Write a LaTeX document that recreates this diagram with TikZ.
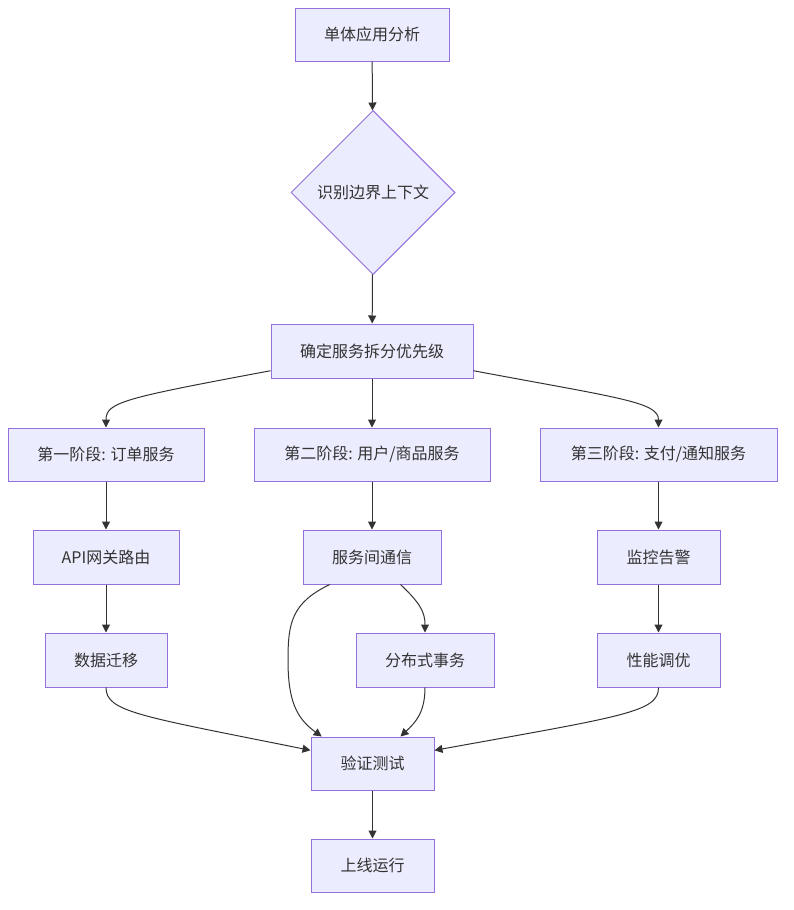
\documentclass[tikz,border=0pt]{standalone}
\usepackage{fontspec}
\setmainfont{Noto Sans CJK SC}
\usetikzlibrary{shapes.geometric,arrows.meta,calc}
\definecolor{nfill}{HTML}{ECECFF}
\definecolor{nline}{HTML}{9370DB}
\definecolor{ntext}{HTML}{333333}
\definecolor{eline}{HTML}{333333}
\begin{document}
\begin{tikzpicture}[x=0.75pt,y=-0.75pt,
  box/.style={draw=nline,fill=nfill,line width=0.75pt,text=ntext,font=\fontsize{12pt}{14pt}\selectfont,inner sep=0pt,minimum height=53*0.75pt},
  dia/.style={box,shape=diamond,aspect=1,minimum width=164*0.75pt,minimum height=164*0.75pt},
  edge/.style={draw=eline,line width=0.75pt,-{Triangle[length=6pt,width=6pt]}}]
\useasboundingbox (0,0) rectangle (793,910);
\node[box,minimum width=154*0.75pt] (A) at (372,34.5) {单体应用分析};
\node[dia] (B) at (373,192.5) {识别边界上下文};
\node[box,minimum width=202*0.75pt,minimum height=54*0.75pt] (C) at (372,351) {确定服务拆分优先级};
\node[box,minimum width=196*0.75pt] (D1) at (106,454.5) {第一阶段: 订单服务};
\node[box,minimum width=236*0.75pt] (D2) at (372,454.5) {第二阶段: 用户/商品服务};
\node[box,minimum width=237*0.75pt] (D3) at (658.5,454.5) {第三阶段: 支付/通知服务};
\node[box,minimum width=146*0.75pt,minimum height=54*0.75pt] (E1) at (106,557) {API网关路由};
\node[box,minimum width=138*0.75pt,minimum height=54*0.75pt] (E2) at (372,557) {服务间通信};
\node[box,minimum width=123*0.75pt,minimum height=54*0.75pt] (E3) at (658.5,557) {监控告警};
\node[box,minimum width=122*0.75pt,minimum height=54*0.75pt] (F1) at (106,660) {数据迁移};
\node[box,minimum width=138*0.75pt,minimum height=54*0.75pt] (F2) at (425,660) {分布式事务};
\node[box,minimum width=123*0.75pt,minimum height=54*0.75pt] (F3) at (658.5,660) {性能调优};
\node[box,minimum width=123*0.75pt] (G) at (372.5,763.5) {验证测试};
\node[box,minimum width=123*0.75pt] (H) at (372.5,865.5) {上线运行};

\draw[edge] (A) -- (B);
\draw[edge] (B) -- (C);
\draw[edge] (C.191) .. controls (125,398) and (106,402) .. (D1.north);
\draw[edge] (C) -- (D2);
\draw[edge] (C.-11) .. controls (619,398) and (658.5,402) .. (D3.north);
\draw[edge] (D1) -- (E1);
\draw[edge] (D2) -- (E2);
\draw[edge] (D3) -- (E3);
\draw[edge] (E1) -- (F1);
\draw[edge] (E3) -- (F3);
\draw[edge] (E2.-44) .. controls (420,603) and (425,612) .. (F2.north);
\draw[edge] (E2.213) .. controls (292,603) and (288,622) .. (288,660) .. controls (288,700) and (296,718) .. (G.152);
\draw[edge] (F2.south) .. controls (425,712) and (416,722) .. (G.44);
\draw[edge] (F1.south) .. controls (106,712) and (140,716) .. (G.168);
\draw[edge] (F3.south) .. controls (658.5,712) and (624.5,716) .. (G.12);
\draw[edge] (G) -- (H);
\end{tikzpicture}
\end{document}
